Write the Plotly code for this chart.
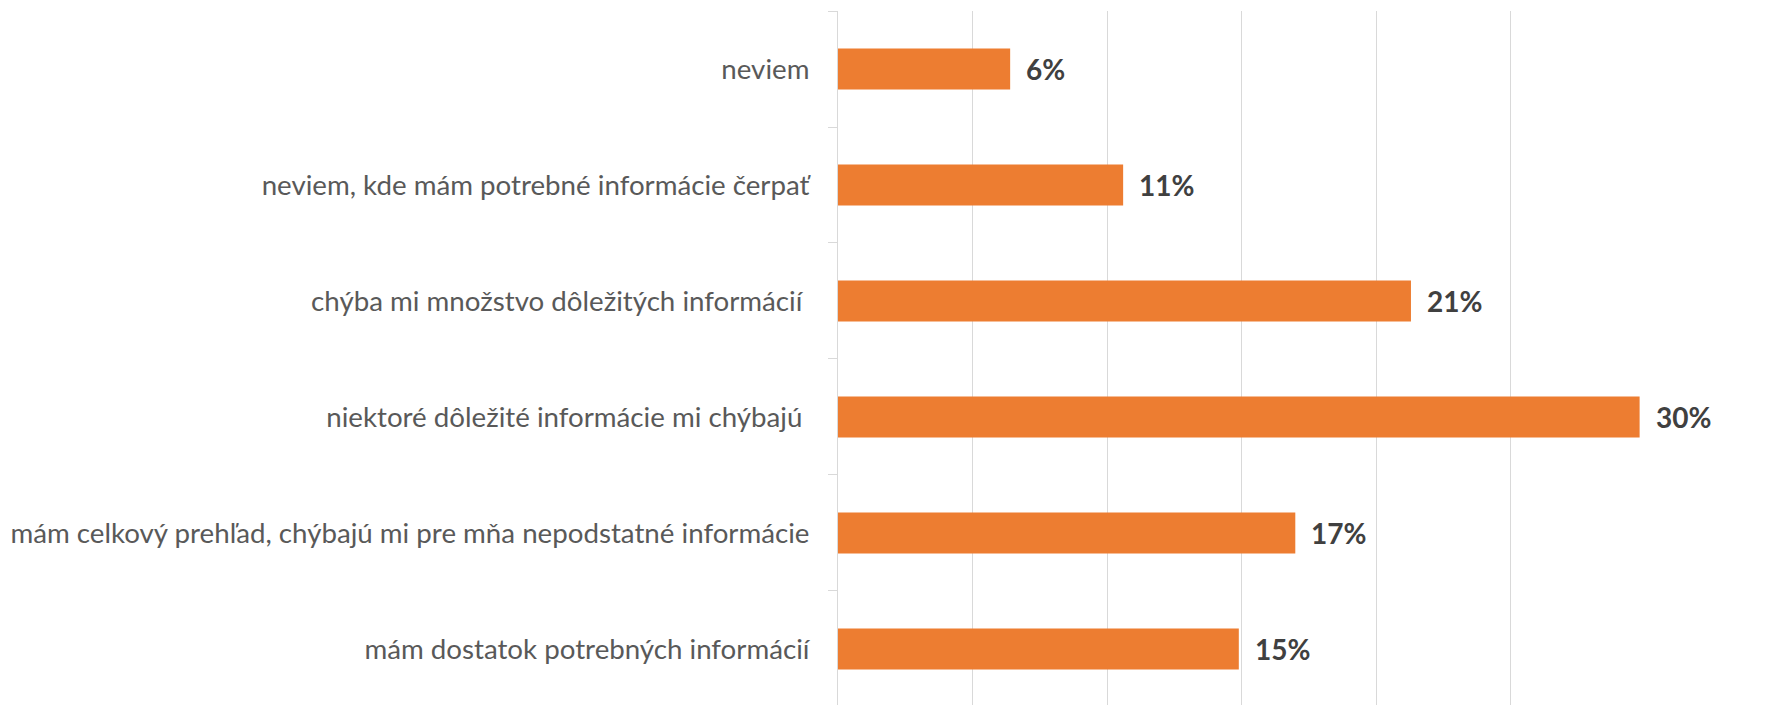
import plotly.graph_objects as go

categories = [
    "mám dostatok potrebných informácií",
    "mám celkový prehľad, chýbajú mi pre mňa nepodstatné informácie",
    "niektoré dôležité informácie mi chýbajú\u00a0",
    "chýba mi množstvo dôležitých informácií\u00a0",
    "neviem, kde mám potrebné informácie čerpať",
    "neviem",
]
values = [0.149, 0.170, 0.298, 0.213, 0.106, 0.064]
value_labels = ["15%", "17%", "30%", "21%", "11%", "6%"]

BAR_COLOR = "#ED7D31"
GRID = "#D9D9D9"

fig = go.Figure()
fig.add_trace(go.Bar(
    x=values,
    y=categories,
    orientation="h",
    width=0.353,
    marker=dict(color=BAR_COLOR, line=dict(width=0)),
    hoverinfo="skip",
))

for v, c, t in zip(values, categories, value_labels):
    fig.add_annotation(
        x=v, y=c, text=f"<b>{t}</b>", showarrow=False,
        xanchor="left", yanchor="middle", xshift=14,
        font=dict(family="Lato", size=28, color="#404040"),
    )

fig.update_layout(
    width=1764, height=697,
    margin=dict(l=830, r=127, t=3, b=0),
    plot_bgcolor="white", paper_bgcolor="white",
    showlegend=False,
    xaxis=dict(
        range=[0, 0.30], dtick=0.05, showgrid=True, gridcolor=GRID, gridwidth=1,
        showticklabels=False, zeroline=False, showline=False, ticks="",
    ),
    yaxis=dict(
        type="category", categoryorder="array", categoryarray=categories,
        range=[-0.483, 5.5], showgrid=False, zeroline=False,
        showline=True, linecolor=GRID, linewidth=1,
        ticks="outside", tickson="boundaries", ticklen=9, tickcolor=GRID, tickwidth=1,
        ticklabelstandoff=22,
        tickfont=dict(family="Lato", size=27.7, color="#595959"),
    ),
)

fig.write_html("out.html")
